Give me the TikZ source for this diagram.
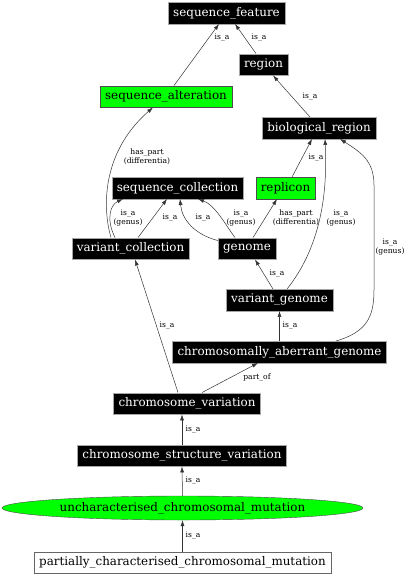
\documentclass[tikz,border=0pt]{standalone}
\usepackage{fontspec}
\setmainfont{DejaVu Serif}
\usetikzlibrary{arrows.meta,shapes.geometric}
\begin{document}
\begin{tikzpicture}[x=1pt, y=1pt, >={Latex[length=6pt,width=4pt]},
  term/.style={rectangle, inner xsep=5pt, inner ysep=0pt, minimum height=21.5pt,
    font=\fontsize{11.9}{12}\selectfont},
  blk/.style={term, fill=black, draw=gray!70, text=white},
  grn/.style={term, fill=green, draw=black!70},
  wht/.style={term, fill=white, draw=black!60},
  edgelbl/.style={font=\fontsize{7.6}{8.6}\selectfont, align=center, inner sep=0pt, text=black},
  rel/.style={->, line width=.5pt, black!80}]
\useasboundingbox (0,0) rectangle (409,-576);
% terms
\node[blk] (sf) at (226.5,-13) {sequence\_feature};
\node[blk] (region) at (263.5,-64.5) {region};
\node[grn] (salt) at (166,-96.5) {sequence\_alteration};
\node[blk] (bio) at (319,-128) {biological\_region};
\node[blk] (scoll) at (177.5,-188) {sequence\_collection};
\node[grn] (rep) at (285.5,-188) {replicon};
\node[blk] (vcoll) at (130.5,-248.5) {variant\_collection};
\node[blk] (gen) at (247,-248.5) {genome};
\node[blk] (vgen) at (279.5,-300) {variant\_genome};
\node[blk] (cag) at (279.5,-352) {chromosomally\_aberrant\_genome};
\node[blk] (cvar) at (187,-403.5) {chromosome\_variation};
\node[blk] (csv) at (182,-455.5) {chromosome\_structure\_variation};
\node[grn, ellipse, minimum width=361pt, minimum height=24pt, inner sep=0pt] (ucm) at (182.5,-508) {uncharacterised\_chromosomal\_mutation};
\node[wht] (pcm) at (182.5,-562.5) {partially\_characterised\_chromosomal\_mutation};
% relations
\draw[rel] ([xshift=8pt]salt.north) -- ([xshift=-7.5pt]sf.south) node[edgelbl] at (222,-38) {is\_a};
\draw[rel] ([xshift=-7.5pt]region.north) -- ([xshift=8.5pt]sf.south) node[edgelbl] at (259,-38) {is\_a};
\draw[rel] ([xshift=-9pt]bio.north) -- ([xshift=9.5pt]region.south) node[edgelbl] at (310,-97) {is\_a};
\draw[rel] ([xshift=-19.5pt]vcoll.north) .. controls +(-7,23) and +(-55,-48) .. ([xshift=-13pt]salt.south)
  node[edgelbl] at (147,-157) {has\_part\\(differentia)};
\draw[rel] ([xshift=-15.5pt]vcoll.north) .. controls +(-9,18) and +(-13,-6) .. ([xshift=-54.5pt]scoll.south)
  node[edgelbl] at (128,-218) {is\_a\\(genus)};
\draw[rel] ([xshift=7.5pt]vcoll.north) -- ([xshift=-10.5pt]scoll.south) node[edgelbl] at (170,-218) {is\_a};
\draw[rel] ([yshift=-3pt]gen.north west) .. controls +(-23,6) and +(2,-21) .. ([xshift=2.5pt]scoll.south)
  node[edgelbl] at (203,-218) {is\_a};
\draw[rel] ([xshift=-12pt]gen.north) .. controls +(-9,12) and +(17,-6) .. ([xshift=20.5pt]scoll.south)
  node[edgelbl] at (241,-218) {is\_a\\(genus)};
\draw[rel] ([xshift=6pt]gen.north) -- ([xshift=-8.5pt]rep.south) node[edgelbl] at (296,-218) {has\_part\\(differentia)};
\draw[rel] ([xshift=6.5pt]rep.north) -- ([xshift=-7pt]bio.south) node[edgelbl] at (316,-158) {is\_a};
\draw[rel] ([xshift=-6.5pt]vgen.north) -- ([xshift=8pt]gen.south) node[edgelbl] at (277,-274) {is\_a};
\draw[rel] ([xshift=7.5pt]vgen.north) .. controls +(31,39) and +(3,-61) .. ([xshift=6pt]bio.south)
  node[edgelbl] at (341,-218) {is\_a\\(genus)};
\draw[rel] (cag.north) -- (vgen.south) node[edgelbl] at (290,-326) {is\_a};
\draw[rel] ([xshift=56.5pt]cag.north) .. controls +(30,9) and +(0,-28) .. (374,-290) -- (374,-185)
  .. controls +(0,25) and +(20,-13) .. ([xshift=21pt]bio.south)
  node[edgelbl] at (390,-247) {is\_a\\(genus)};
\draw[rel] ([xshift=-9pt]cvar.north) -- ([xshift=4.5pt]vcoll.south) node[edgelbl] at (167,-326) {is\_a};
\draw[rel] ([xshift=15pt]cvar.north) -- ([xshift=-21.5pt]cag.south) node[edgelbl] at (257,-378) {part\_of};
\draw[rel] (csv.north) -- (csv.north |- cvar.south) node[edgelbl] at (193,-430) {is\_a};
\draw[rel] (ucm.north) -- (csv.south) node[edgelbl] at (193,-481) {is\_a};
\draw[rel] (pcm.north) -- (ucm.south) node[edgelbl] at (193,-536) {is\_a};
\end{tikzpicture}
\end{document}
